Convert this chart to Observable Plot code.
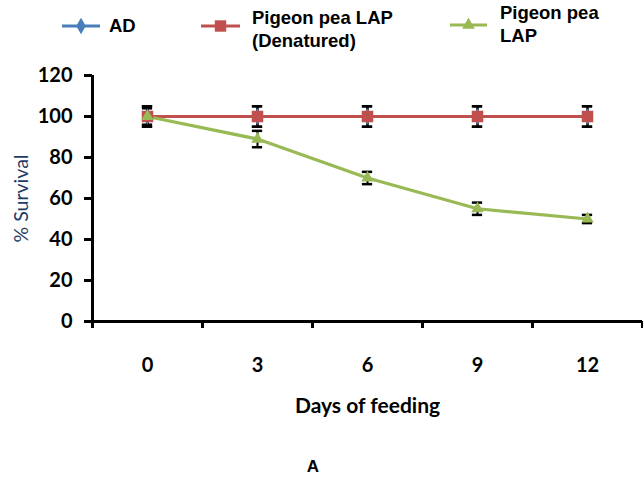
<!DOCTYPE html>
<html><head><meta charset="utf-8">
<script src="https://cdn.jsdelivr.net/npm/d3@7"></script>
<script src="https://cdn.jsdelivr.net/npm/@observablehq/plot@0.6"></script>
<style>
body{margin:0;background:#fff;width:643px;height:479px;overflow:hidden;position:relative;font-family:"Liberation Sans",Arial,sans-serif}
#legend{position:absolute;left:0;top:0;width:643px;height:60px}
#legend .t{position:absolute;font-weight:bold;font-size:18.5px;line-height:23px;color:#000;white-space:nowrap}
#legend svg{position:absolute;left:0;top:0}
#chart{position:absolute;left:0;top:60px}
#chart svg{display:block}
#caption{position:absolute;left:313px;top:467px;transform:translate(-50%,-50%);font-weight:bold;font-size:17px;color:#000}
</style></head><body>
<div id="legend"></div>
<div id="chart"></div>
<div id="caption">A</div>
<script>
const days = [0, 3, 6, 9, 12];
const seriesNames = ["AD", "Pigeon pea LAP (Denatured)", "Pigeon pea LAP"];
const legendLines = [["AD"], ["Pigeon pea LAP", "(Denatured)"], ["Pigeon pea", "LAP"]];
const adValues = [100, 100, 100, 100, 100];
const adErrors = [5, 5, 5, 5, 5];
const denaturedValues = [100, 100, 100, 100, 100];
const denaturedErrors = [5, 5, 5, 5, 5];
const lapValues = [100, 89, 70, 55, 50];
const lapErrors = [4, 4, 3, 3, 2];
const yTicks = [0, 20, 40, 60, 80, 100, 120];
const colors = ["#4a7ebb", "#c0504d", "#98b954"];
const xTitle = "Days of feeding";
const yTitle = "% Survival";

const valueSets = [adValues, denaturedValues, lapValues];
const errorSets = [adErrors, denaturedErrors, lapErrors];
const rows = [];
seriesNames.forEach((s, i) => days.forEach((d, j) => rows.push({series: s, day: d, value: valueSets[i][j], err: errorSets[i][j]})));

const half = 1.5; // half of the 3-day category step
const boundaries = days.map(d => d - half).concat([days[days.length - 1] + half]);
const capHalf = 0.14;

const chart = Plot.plot({
  width: 643, height: 395,
  marginLeft: 92, marginRight: 1, marginTop: 15, marginBottom: 134,
  x: {type: "linear", domain: [boundaries[0], boundaries[boundaries.length - 1]]},
  y: {domain: [0, 120]},
  color: {domain: seriesNames, range: colors},
  style: {fontFamily: "Lato, sans-serif", fontSize: "19px", fontWeight: "bold", color: "#000", background: "#fff"},
  marks: [
    Plot.ruleX(rows, {x: "day", y1: d => d.value - d.err, y2: d => d.value + d.err, stroke: "#000", strokeWidth: 2}),
    Plot.ruleY(rows, {y: d => d.value + d.err, x1: d => d.day - capHalf, x2: d => d.day + capHalf, stroke: "#000", strokeWidth: 2.5}),
    Plot.ruleY(rows, {y: d => d.value - d.err, x1: d => d.day - capHalf, x2: d => d.day + capHalf, stroke: "#000", strokeWidth: 2.5}),
    Plot.line(rows, {x: "day", y: "value", z: "series", stroke: "series", strokeWidth: 3.2}),
    Plot.dot(rows.filter(d => d.series === seriesNames[0]), {x: "day", y: "value", symbol: "diamond", r: 5, fill: "series"}),
    Plot.dot(rows.filter(d => d.series === seriesNames[1]), {x: "day", y: "value", symbol: "square", r: 6.5, fill: "series"}),
    Plot.dot(rows.filter(d => d.series === seriesNames[2]), {x: "day", y: "value", symbol: "triangle", r: 4.6, fill: "series"}),
    Plot.ruleX([boundaries[0]], {y1: 0, y2: 120, stroke: "#000", strokeWidth: 3}),
    Plot.ruleY([0], {stroke: "#000", strokeWidth: 3}),
    Plot.axisY({ticks: yTicks, tickSize: 8, tickPadding: 12, strokeWidth: 3, fontSize: 20, label: null}),
    Plot.axisY({ticks: [], label: yTitle, labelAnchor: "center", labelArrow: "none", labelOffset: 78, fontSize: 19.5, fontWeight: "normal", fill: "#1f3c64"}),
    Plot.axisX({ticks: boundaries, tickSize: 7, strokeWidth: 3, tickFormat: () => "", label: null}),
    Plot.axisX({ticks: days, tickSize: 0, tickPadding: 36, fontSize: 20, label: null}),
    Plot.text([xTitle], {frameAnchor: "bottom", dy: 91, text: d => d, fontSize: 21})
  ]
});
document.getElementById("chart").appendChild(chart);

// legend
const legend = document.getElementById("legend");
const ns = "http://www.w3.org/2000/svg";
const lsvg = document.createElementNS(ns, "svg");
lsvg.setAttribute("width", 643); lsvg.setAttribute("height", 60);
legend.appendChild(lsvg);
const legendPos = [
  {x1: 62, x2: 100, y: 26, tx: 109, ty: 14},
  {x1: 201, x2: 240, y: 26, tx: 252, ty: 6},
  {x1: 450, x2: 487, y: 25, tx: 500, ty: 1}
];
const symbols = [d3.symbolDiamond, d3.symbolSquare, d3.symbolTriangle];
const symSizes = [80, 130, 70];
seriesNames.forEach((s, i) => {
  const p = legendPos[i];
  const ln = document.createElementNS(ns, "line");
  ln.setAttribute("x1", p.x1); ln.setAttribute("x2", p.x2);
  ln.setAttribute("y1", p.y); ln.setAttribute("y2", p.y);
  ln.setAttribute("stroke", colors[i]); ln.setAttribute("stroke-width", 3);
  lsvg.appendChild(ln);
  const path = document.createElementNS(ns, "path");
  path.setAttribute("d", d3.symbol(symbols[i], symSizes[i])());
  path.setAttribute("transform", `translate(${(p.x1 + p.x2) / 2},${p.y})`);
  path.setAttribute("fill", colors[i]);
  lsvg.appendChild(path);
  const t = document.createElement("div");
  t.className = "t";
  t.style.left = p.tx + "px"; t.style.top = p.ty + "px";
  t.innerHTML = legendLines[i].join("<br>");
  legend.appendChild(t);
});
</script>
</body></html>
